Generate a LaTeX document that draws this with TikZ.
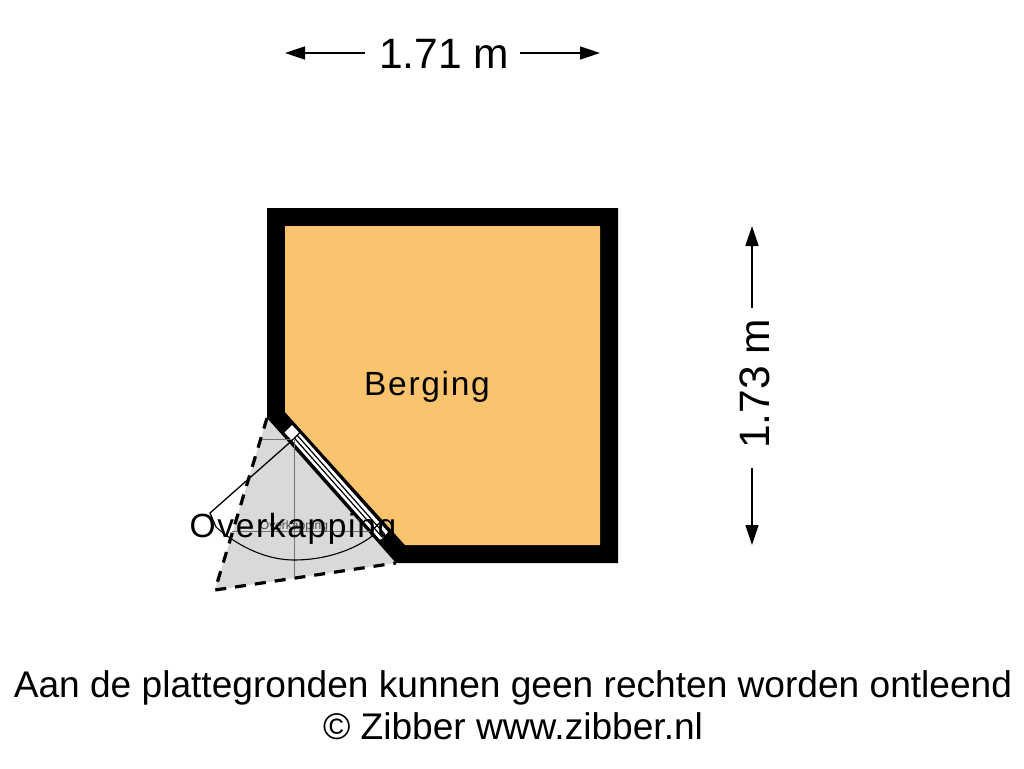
\documentclass[tikz,border=0pt]{standalone}
\usepackage{fontspec}
\setmainfont{Liberation Sans}
\usetikzlibrary{arrows.meta}
\definecolor{room}{RGB}{250,195,110}
\definecolor{covered}{RGB}{217,217,217}
\tikzset{
  px/.style={x=1pt,y=-1pt},
  dim/.style={line width=1.6pt,-{Triangle[length=20pt,width=13pt]}},
  dimtext/.style={font=\fontsize{42.5}{42.5}\selectfont,inner sep=0pt,anchor=center},
  foot/.style={font=\fontsize{37.1}{37.1}\selectfont,inner sep=0pt,anchor=center},
  thin grey/.style={draw=black!55,line width=0.8pt},
  winline/.style={draw=black,line width=1.2pt},
}
\begin{document}
\begin{tikzpicture}[px]
\useasboundingbox (0,0) rectangle (1024,768);
% covered area
\fill[covered] (267,418) -- (396,563) -- (215,590) -- cycle;
\draw[line width=3.2pt,dash pattern=on 11pt off 9pt] (267,418) -- (215,590) -- (396,563);
% walls and room
\fill[black] (267,208) -- (618,208) -- (618,563) -- (396,563) -- (267,418) -- cycle;
\fill[room] (285,226) -- (600,226) -- (600,545) -- (405,545) -- (285,412) -- cycle;
% window: frame square, glazing strip, end square
\fill[white] (292,424) -- (300,432.5) -- (389,532) -- (380.5,541.5) -- (291.5,441) -- (283.5,432.5) -- cycle;
\draw[winline] (292,424) -- (300,432.5) -- (389,532);
\draw[winline] (292,424) -- (283.5,432.5) -- (291.5,441) -- (380.5,541.5);
\draw[winline] (300,432.5) -- (291.5,441);
\draw[winline] (297.2,435.3) -- (385,534.5);
\draw[winline] (294.4,438.1) -- (382.5,537.5);
\draw[winline] (380,522.5) -- (371.5,531);
\draw[winline] (389,532) -- (380.5,541.5);
% grey construction lines
\draw[thin grey] (294,440) -- (294,577);
\draw[thin grey] (262,439) -- (292,439);
\draw[thin grey] (232,531) -- (370,531);
% door
\draw[line width=1.3pt] (291.5,441) -- (210,513) -- (216,527);
\draw[line width=1.1pt] (216,527) .. controls (240,548) and (268,560) .. (294,560) .. controls (322,560) and (352,552) .. (375,534);
% texts
\node[font=\fontsize{12}{12}\selectfont,text=black!70,inner sep=0pt] (smalllabel) at (294,526) {Overkapping};
\node[font=\fontsize{33.5}{33.5}\selectfont,inner sep=0pt] (coverlabel) at (293,529) {\addfontfeature{LetterSpace=5}Overkapping};
\node[font=\fontsize{33.5}{33.5}\selectfont,inner sep=0pt] (roomlabel) at (427,387) {\addfontfeature{LetterSpace=5}Berging};
% dimensions
\node[dimtext] (widthlabel) at (444,54) {1.71 m};
\coordinate (wl) at (285,53); \coordinate (wr) at (600,53);
\draw[dim] (365,53) -- (wl);
\draw[dim] (520,53) -- (wr);
\node[dimtext,rotate=90] (heightlabel) at (755,384) {1.73 m};
\coordinate (ht) at (752,226); \coordinate (hb) at (752,545);
\draw[dim] (752,308) -- (ht);
\draw[dim] (752,468) -- (hb);
\node[foot] (footone) at (513,688) {Aan de plattegronden kunnen geen rechten worden ontleend};
\node[foot] (foottwo) at (513,726.5) {© Zibber www.zibber.nl};
\end{tikzpicture}
\end{document}
